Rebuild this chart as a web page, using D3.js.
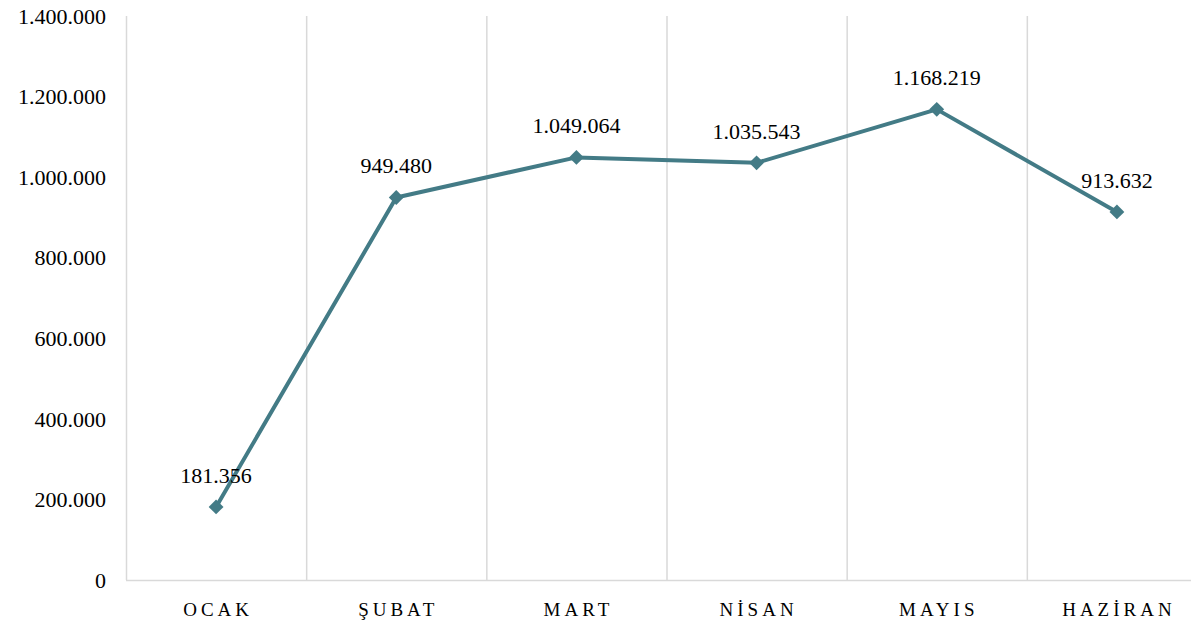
<!DOCTYPE html>
<html>
<head>
<meta charset="utf-8">
<script src="https://cdn.jsdelivr.net/npm/d3@7"></script>
<style>
  body { margin: 0; background: #fff; }
  text { font-family: "Liberation Serif", "DejaVu Serif", serif; fill: #000; }
</style>
</head>
<body>
<script>
const months = ["OCAK", "ŞUBAT", "MART", "NİSAN", "MAYIS", "HAZİRAN"];
const values = [181356, 949480, 1049064, 1035543, 1168219, 913632];
const yTicks = [0, 200000, 400000, 600000, 800000, 1000000, 1200000, 1400000];

const width = 1191, height = 625;
const plotLeft = 126, plotRight = 1207, plotTop = 16, plotBottom = 580;
const lineColor = "#437b86";
const gridColor = "#d9d9d9";

const fmt = v => d3.format(",")(v).replace(/,/g, ".");

const svg = d3.select("body")
    .append("svg")
    .attr("width", width)
    .attr("height", height)

const x = d3.scaleBand().domain(months).range([plotLeft, plotRight]).padding(0);
const y = d3.scaleLinear().domain([0, 1400000]).range([plotBottom, plotTop]);

// vertical gridlines at category boundaries
const bounds = months.map(m => x(m)).concat([plotRight]);
svg.append("g")
    .selectAll("line")
    .data(bounds)
    .enter()
    .append("line")
    .attr("x1", d => d + 0.5)
    .attr("x2", d => d + 0.5)
    .attr("y1", plotTop)
    .attr("y2", plotBottom)
    .attr("stroke", gridColor)
    .attr("stroke-width", 1.5)

// baseline
svg.append("line")
    .attr("x1", plotLeft)
    .attr("x2", plotRight)
    .attr("y1", y(0) + 0.5)
    .attr("y2", y(0) + 0.5)
    .attr("stroke", gridColor)
    .attr("stroke-width", 1.5)

// y axis labels
svg.append("g")
    .selectAll("text")
    .data(yTicks)
    .enter()
    .append("text")
    .attr("x", 106)
    .attr("y", d => y(d))
    .attr("dy", "0.35em")
    .attr("text-anchor", "end")
    .style("font-size", "22px")
    .text(d => fmt(d))

// x axis labels
svg.append("g")
    .selectAll("text")
    .data(months)
    .enter()
    .append("text")
    .attr("x", d => x(d) + x.bandwidth() / 2 + 2)
    .attr("y", 616)
    .attr("text-anchor", "middle")
    .style("font-size", "19px")
    .style("letter-spacing", "4px")
    .text(d => d)

const pts = months.map((m, i) => ({ m, v: values[i] }));

const line = d3.line()
    .x(d => x(d.m) + x.bandwidth() / 2)
    .y(d => y(d.v));

svg.append("path")
    .datum(pts)
    .attr("d", line)
    .attr("fill", "none")
    .attr("stroke", lineColor)
    .attr("stroke-width", 4)
    .attr("stroke-linejoin", "round")

svg.append("g")
    .selectAll("path")
    .data(pts)
    .enter()
    .append("path")
    .attr("d", d3.symbol().type(d3.symbolSquare).size(110))
    .attr("transform", d => "translate(" + (x(d.m) + x.bandwidth() / 2) + "," + y(d.v) + ") rotate(45)")
    .attr("fill", lineColor)

svg.append("g")
    .selectAll("text")
    .data(pts)
    .enter()
    .append("text")
    .attr("x", d => x(d.m) + x.bandwidth() / 2)
    .attr("y", d => y(d.v) - 24)
    .attr("text-anchor", "middle")
    .style("font-size", "22px")
    .text(d => fmt(d.v))
</script>
</body>
</html>
